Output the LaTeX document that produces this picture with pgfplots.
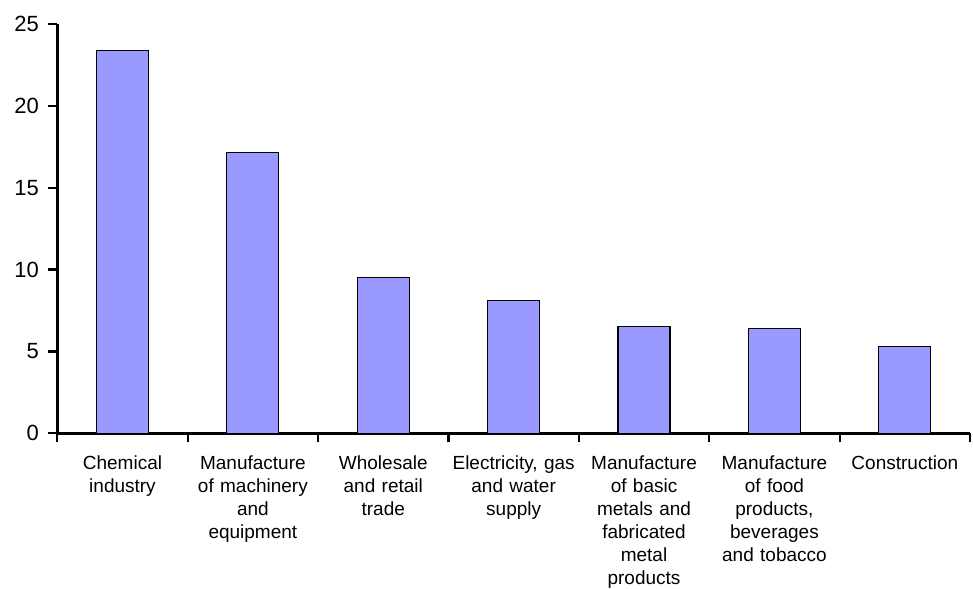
\documentclass[border=0pt]{standalone}
\usepackage{pgfplots}
\pgfplotsset{compat=1.18}
\usepackage{fontspec}
\setmainfont{Liberation Sans}
\definecolor{barfill}{HTML}{9999FF}
\begin{document}
\begin{tikzpicture}
\begin{axis}[
  name=ax,
  scale only axis,
  width=912.7pt, height=409.3pt,
  xmin=-0.5, xmax=6.5,
  ymin=0, ymax=25,
  ytick={0,5,...,25},
  xtick={-0.5,0.5,...,6.5},
  x tick label as interval,
  xticklabels={{Chemical\\industry},{Manufacture\\of machinery\\and\\equipment},{Wholesale\\and retail\\trade},{Electricity, gas\\and water\\supply},{Manufacture\\of basic\\metals and\\fabricated\\metal\\products},{Manufacture\\of food\\products,\\beverages\\and tobacco},{Construction}},
  axis x line*=bottom,
  axis y line*=left,
  x axis line style={line width=3pt, black, -},
  y axis line style={line width=3pt, black, -},
  every tick/.style={line width=2.2pt, black},
  tick align=outside,
  major tick length=9pt,
  /pgf/number format/assume math mode=true,
  yticklabel style={font=\fontsize{22}{26}\selectfont, xshift=-6pt},
  xticklabel style={font=\fontsize{19}{23}\selectfont, align=center, text width=130pt, anchor=north, yshift=-10pt},
]
\addplot[ybar, bar width=52pt, fill=barfill, draw=black, line width=1.2pt] coordinates {
(0,23.4) (1,17.15) (2,9.5) (3,8.13) (4,6.5) (5,6.4) (6,5.31)
};
\end{axis}
\pgfresetboundingbox
\path ([shift={(-57.3pt,-155pt)}]ax.south west) rectangle ([shift={(3pt,24pt)}]ax.north east);
\end{tikzpicture}
\end{document}
